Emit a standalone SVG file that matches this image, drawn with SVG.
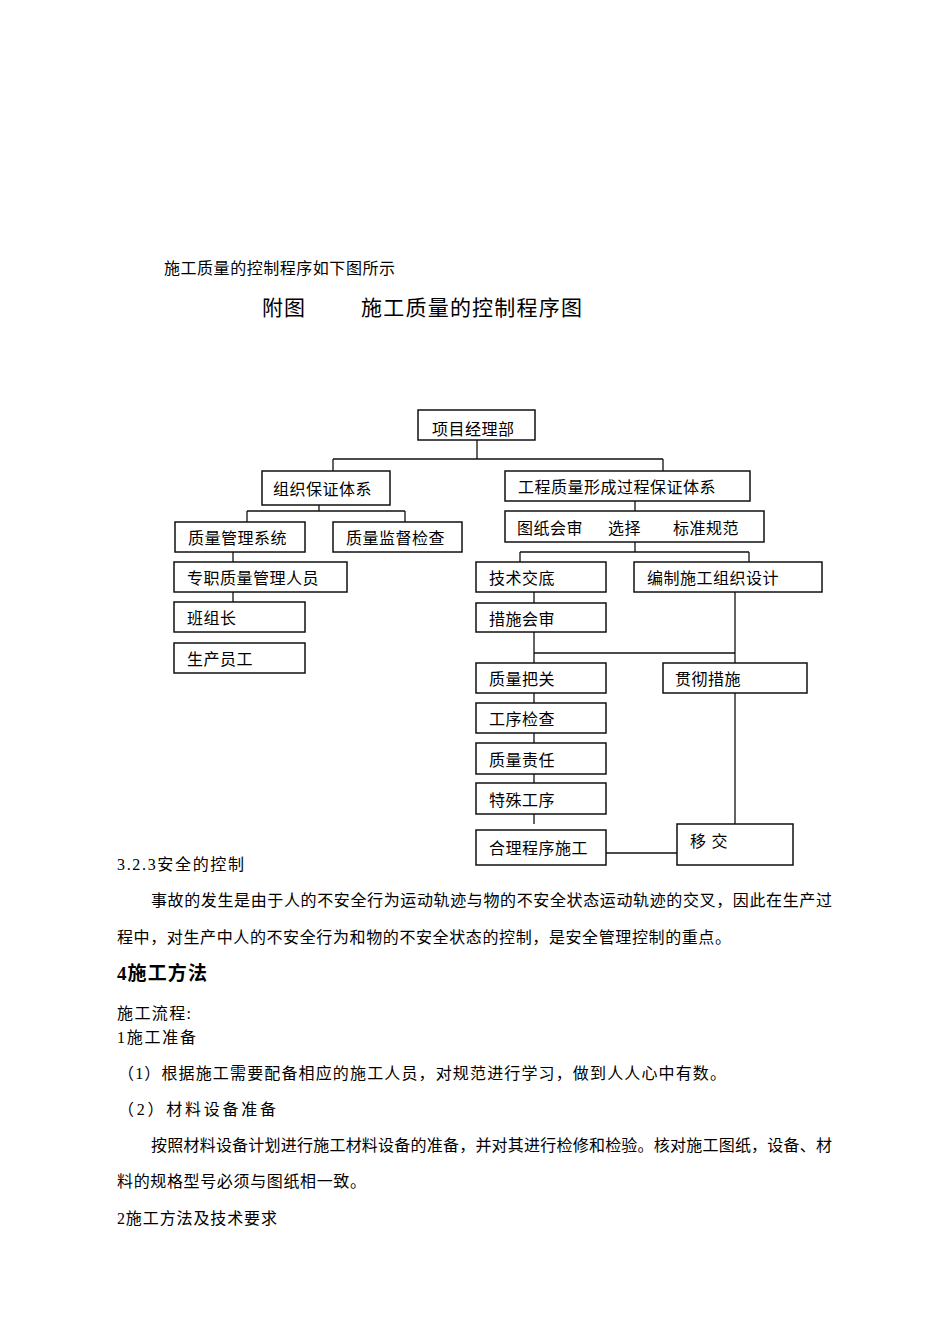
<svg xmlns="http://www.w3.org/2000/svg" width="950" height="1344" viewBox="0 0 950 1344">
<style>
.bx{fill:#fff;stroke:#111;stroke-width:1.5}
.bt{font-family:"Liberation Sans","Noto Sans CJK SC",sans-serif;font-size:16px;letter-spacing:0.5px;fill:#000}
.ln{fill:none;stroke:#111;stroke-width:1.3}
.tx{font-family:"Liberation Serif","Noto Sans CJK SC",serif;font-size:16px;fill:#000}
</style>
<rect width="950" height="1344" fill="#fff"/>
<text class="tx" x="164" y="274" textLength="231" lengthAdjust="spacing">施工质量的控制程序如下图所示</text>
<text class="tx" x="262" y="315" style="font-size:21px" textLength="43" lengthAdjust="spacing">附图</text>
<text class="tx" x="361" y="315" style="font-size:21px" textLength="221" lengthAdjust="spacing">施工质量的控制程序图</text>

<g id="connectors">
<path class="ln" d="M477,440V459M333,459H663M333,459V471M663,459V471"/>
<path class="ln" d="M319,505V511M247,511H405M247,511V522M405,511V522"/>
<path class="ln" d="M233,552V562M233,592V602"/>
<path class="ln" d="M635,501V511M635,542V552M520,552H749M520,552V562M749,552V562"/>
<path class="ln" d="M534,592V603M534,632V663M534,653H735M735,592V663"/>
<path class="ln" d="M534,693V703M534,733V743M534,774V783M534,814V824"/>
<path class="ln" d="M735,693V824M606,853H677"/>
</g>

<g id="n-xmjlb"><rect class="bx" x="418" y="410" width="117" height="30"/><text class="bt" x="432" y="435">项目经理部</text></g>
<g id="n-zzbztx"><rect class="bx" x="262" y="471" width="128" height="34"/><text class="bt" x="273" y="495">组织保证体系</text></g>
<g id="n-gczl"><rect class="bx" x="505" y="471" width="245" height="30"/><text class="bt" x="518" y="493">工程质量形成过程保证体系</text></g>
<g id="n-zlglxt"><rect class="bx" x="175" y="522" width="130" height="30"/><text class="bt" x="188" y="544">质量管理系统</text></g>
<g id="n-zljd"><rect class="bx" x="333" y="522" width="129" height="30"/><text class="bt" x="346" y="544">质量监督检查</text></g>
<g id="n-tzhs"><rect class="bx" x="505" y="511" width="259" height="31"/><text class="bt" x="517" y="534">图纸会审</text><text class="bt" x="608" y="534">选择</text><text class="bt" x="673" y="534">标准规范</text></g>
<g id="n-zzry"><rect class="bx" x="174" y="562" width="173" height="30"/><text class="bt" x="187" y="584">专职质量管理人员</text></g>
<g id="n-jsjd"><rect class="bx" x="476" y="562" width="130" height="30"/><text class="bt" x="489" y="584">技术交底</text></g>
<g id="n-bzsg"><rect class="bx" x="634" y="562" width="188" height="30"/><text class="bt" x="647" y="584">编制施工组织设计</text></g>
<g id="n-bzz"><rect class="bx" x="174" y="602" width="131" height="30"/><text class="bt" x="187" y="624">班组长</text></g>
<g id="n-cshs"><rect class="bx" x="476" y="603" width="130" height="29"/><text class="bt" x="489" y="625">措施会审</text></g>
<g id="n-scyg"><rect class="bx" x="174" y="643" width="131" height="30"/><text class="bt" x="187" y="665">生产员工</text></g>
<g id="n-zlbg"><rect class="bx" x="476" y="663" width="130" height="30"/><text class="bt" x="489" y="685">质量把关</text></g>
<g id="n-gccs"><rect class="bx" x="663" y="663" width="144" height="30"/><text class="bt" x="675" y="685">贯彻措施</text></g>
<g id="n-gxjc"><rect class="bx" x="476" y="703" width="130" height="30"/><text class="bt" x="489" y="725">工序检查</text></g>
<g id="n-zlzr"><rect class="bx" x="476" y="743" width="130" height="31"/><text class="bt" x="489" y="766">质量责任</text></g>
<g id="n-tsgx"><rect class="bx" x="476" y="783" width="130" height="31"/><text class="bt" x="489" y="806">特殊工序</text></g>
<g id="n-hlcx"><rect class="bx" x="476" y="830" width="130" height="35"/><text class="bt" x="489" y="854">合理程序施工</text></g>
<g id="n-yj"><rect class="bx" x="677" y="824" width="116" height="41"/><text class="bt" x="690" y="847" xml:space="preserve" letter-spacing="2">移 交</text></g>

<text class="tx" x="117" y="870" textLength="127" lengthAdjust="spacing">3.2.3安全的控制</text>
<text class="tx" x="151" y="906" textLength="681" lengthAdjust="spacing">事故的发生是由于人的不安全行为运动轨迹与物的不安全状态运动轨迹的交叉，因此在生产过</text>
<text class="tx" x="117" y="943" textLength="614" lengthAdjust="spacing">程中，对生产中人的不安全行为和物的不安全状态的控制，是安全管理控制的重点。</text>
<text class="tx" x="117" y="980" style="font-size:19px;font-weight:bold" textLength="90" lengthAdjust="spacing">4施工方法</text>
<text class="tx" x="117" y="1019" textLength="74" lengthAdjust="spacing">施工流程:</text>
<text class="tx" x="117" y="1043" textLength="79" lengthAdjust="spacing">1施工准备</text>
<text class="tx" x="118" y="1079" textLength="608" lengthAdjust="spacing">（1）根据施工需要配备相应的施工人员，对规范进行学习，做到人人心中有数。</text>
<text class="tx" x="118" y="1115" textLength="158" lengthAdjust="spacing">（2）材料设备准备</text>
<text class="tx" x="151" y="1151" textLength="681" lengthAdjust="spacing">按照材料设备计划进行施工材料设备的准备，并对其进行检修和检验。核对施工图纸，设备、材</text>
<text class="tx" x="117" y="1187" textLength="249" lengthAdjust="spacing">料的规格型号必须与图纸相一致。</text>
<text class="tx" x="117" y="1224" textLength="160" lengthAdjust="spacing">2施工方法及技术要求</text>
</svg>
